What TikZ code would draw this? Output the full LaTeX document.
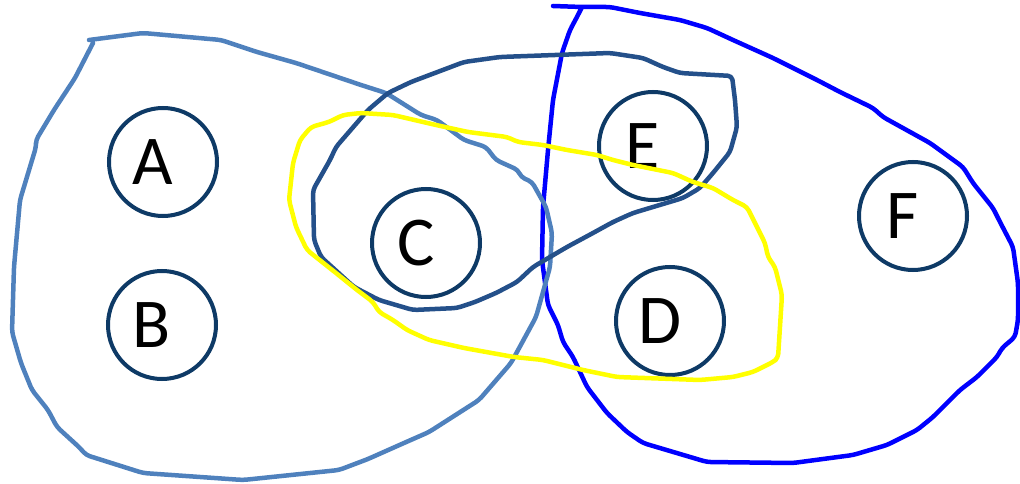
\documentclass[tikz,border=0pt]{standalone}
\usepackage{fontspec}
\setmainfont{Carlito}
\definecolor{navy}{HTML}{0E3A66}
\definecolor{lblue}{HTML}{4F81BD}
\definecolor{dblue}{HTML}{24508A}
\definecolor{pblue}{HTML}{0000FF}
\definecolor{yel}{HTML}{FFFF00}
\tikzset{
  setnode/.style={circle,draw=navy,line width=4pt,minimum size=108pt,inner sep=0pt},
  setlbl/.style={font=\fontsize{70}{70}\selectfont,text=black,inner sep=0pt},
  blob/.style={line width=4.5pt,line join=round,line cap=round,rounded corners=4pt}
}
\begin{document}
\begin{tikzpicture}[x=1pt,y=-1pt]
\useasboundingbox (0,0) rectangle (1020,484);
% set nodes
\node[setnode] (A) at (163,162) {};
\node[setnode] (B) at (162,325) {};
\node[setnode] (C) at (426,243) {};
\node[setnode] (E) at (653,146) {};
\node[setnode] (D) at (670,321) {};
\node[setnode] (F) at (913,216) {};
\node[setlbl] (lA) at ([xshift=-10pt]A.center) {A};
\node[setlbl] (lB) at ([xshift=-10pt]B.center) {B};
\node[setlbl] (lC) at ([xshift=-10pt]C.center) {C};
\node[setlbl] (lE) at ([xshift=-10pt]E.center) {E};
\node[setlbl] (lD) at ([xshift=-10pt]D.center) {D};
\node[setlbl] (lF) at ([xshift=-10pt]F.center) {F};
% blue set
\draw[blob,draw=pblue] (553,6) -- (582,7) -- (610,7) -- (640,13) -- (680,20) -- (707,28) -- (733,40)
  -- (773,58) -- (817,80) -- (840,92) -- (873,108) -- (883,117) -- (930,143) -- (963,167)
  -- (973,183) -- (993,208) -- (1000,222) -- (1013,247) -- (1018,283) -- (1018,320)
  -- (1015,337) -- (1002,348) -- (997,357) -- (977,377) -- (960,390) -- (933,417)
  -- (917,430) -- (887,445) -- (853,455) -- (793,463) -- (707,462) -- (643,443)
  -- (627,432) -- (607,413) -- (587,387) -- (573,357) -- (563,342) -- (558,325)
  -- (548,305) -- (542,260) -- (543,207) -- (548,150) -- (553,100) -- (562,53)
  -- (570,30) -- (578,15) -- (582,7);
% light blue set
\draw[blob,draw=lblue] (89,40) -- (143,33) -- (221,40) -- (257,52) -- (296,63) -- (361,85)
  -- (386,93) -- (421,115) -- (437,120) -- (464,140) -- (486,147) -- (496,160)
  -- (518,170) -- (521,177) -- (532,182) -- (546,207) -- (552,233) -- (550,267)
  -- (536,317) -- (511,363) -- (479,400) -- (429,432) -- (404,443) -- (368,459)
  -- (339,470) -- (243,480) -- (143,473) -- (86,455) -- (80,448) -- (57,427)
  -- (48,410) -- (32,390) -- (21,363) -- (12,332) -- (14,267) -- (20,200)
  -- (36,147) -- (36,140) -- (54,110) -- (75,78) -- (93,43);
% dark blue set
\draw[blob,draw=dblue] (500,57) -- (610,53) -- (643,58) -- (663,67) -- (680,73) -- (732,76)
  -- (735,100) -- (737,127) -- (730,152) -- (713,173) -- (700,188) -- (683,198)
  -- (653,207) -- (633,213) -- (613,222) -- (593,233) -- (567,247) -- (550,257)
  -- (533,267) -- (517,282) -- (496,293) -- (475,302) -- (457,308) -- (413,310)
  -- (379,300) -- (354,287) -- (321,257) -- (314,240) -- (313,190) -- (330,160)
  -- (336,147) -- (368,110) -- (388,93) -- (411,82) -- (464,62) -- cycle;
% yellow set
\draw[blob,draw=yel] (329,122) -- (343,115) -- (361,113) -- (393,115) -- (436,125)
  -- (468,132) -- (507,137) -- (518,142) -- (543,145) -- (567,150) -- (597,155)
  -- (613,160) -- (633,165) -- (673,173) -- (693,182) -- (713,188) -- (733,200)
  -- (747,207) -- (757,227) -- (765,243) -- (768,257) -- (775,267) -- (782,295)
  -- (778,358) -- (773,362) -- (753,372) -- (733,377) -- (700,380) -- (617,377)
  -- (583,370) -- (543,360) -- (514,357) -- (464,348) -- (429,340) -- (407,330)
  -- (393,320) -- (379,312) -- (373,302) -- (357,290) -- (336,273) -- (307,250)
  -- (296,227) -- (289,200) -- (293,163) -- (300,140) -- (311,127) -- cycle;
\end{tikzpicture}
\end{document}
